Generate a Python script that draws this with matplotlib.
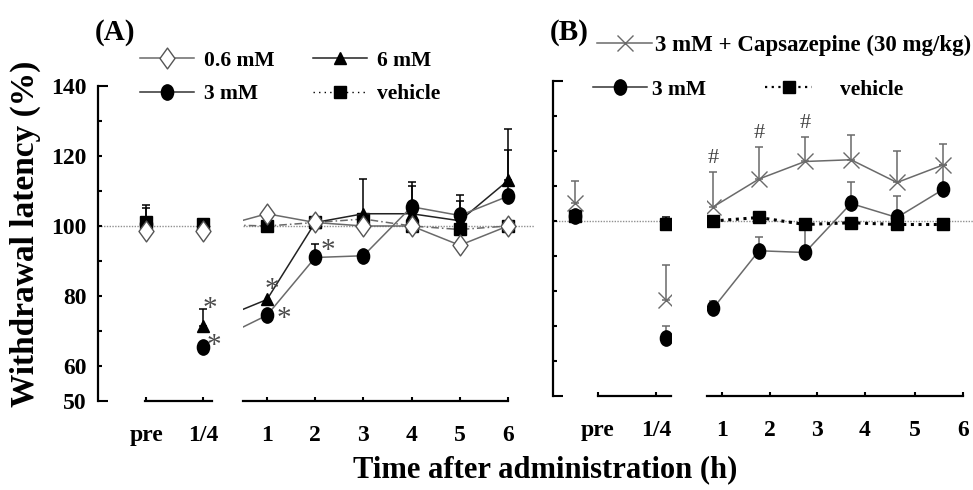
import matplotlib
matplotlib.use('Agg')
import matplotlib.pyplot as plt
import numpy as np
from matplotlib.path import Path
from matplotlib.lines import Line2D
from matplotlib.ticker import FixedLocator, FixedFormatter

plt.rcParams['font.family'] = ['Liberation Serif', 'DejaVu Serif']
plt.rcParams['font.weight'] = 'bold'

# ---------------- data ----------------
time_labels = ['pre', '1/4', '1', '2', '3', '4', '5', '6']

# Panel A
a_06 = [98.5, 98.5, 103.5, 101.0, 100.0, 100.0, 94.5, 100.0]
a_3 = [100.5, 65.5, 74.5, 91.0, 91.5, 105.5, 103.0, 108.5]
a_3_err = [0, 0, 0, 3.8, 0, 7.0, 5.8, 13.3]
a_6 = [101.0, 71.5, 79.0, 101.0, 103.5, 103.5, 101.5, 113.0]
a_6_err = [4.0, 4.8, 0, 0, 9.8, 8.0, 5.5, 14.6]
a_veh = [101.0, 100.5, 100.0, 101.0, 102.0, 100.0, 99.0, 100.0]
a_veh_err = [5.0, 0, 0, 0, 0, 0, 0, 0]
a_sig_6 = [1, 2]
a_sig_3 = [1, 2, 3]

# Panel B
b_cz = [105.0, 77.5, 104.0, 112.0, 117.0, 117.5, 111.0, 116.0]
b_cz_err = [6.5, 10.0, 10.0, 9.0, 7.0, 7.0, 9.0, 6.0]
b_3 = [101.5, 66.5, 75.0, 91.5, 91.0, 105.0, 101.0, 109.0]
b_3_err = [0, 3.5, 2.0, 4.0, 8.0, 6.0, 6.0, 7.0]
b_veh = [101.5, 99.0, 100.0, 101.0, 99.0, 99.5, 99.0, 99.0]
b_veh_err = [0, 2.0, 0, 0, 0, 0, 0, 0]
b_sig_cz = [2, 3, 4]

y_tick_vals = [50, 60, 70, 80, 90, 100, 110, 120, 130, 140]
y_tick_text = ['50', '60', '', '80', '', '100', '', '120', '', '140']
ref_level = 100

# ---------------- layout ----------------
W, H = 973, 490
pos_a = [-1.5, -0.33, 1, 2, 3, 4, 5, 6]
pos_b = [-2.0, 0.0, 1, 2, 3, 4, 5, 6]
tick_b = [-1.5, -0.22, 1.2, 2.24, 3.26, 4.3, 5.39, 6.43]

fig = plt.figure(figsize=(W / 100, H / 100), dpi=100)


def px_axes(x0, x1, ytop, ybot):
    return fig.add_axes([x0 / W, 1 - ybot / H, (x1 - x0) / W, (ybot - ytop) / H])


axA1 = px_axes(98, 212, 86, 401)
axA2 = px_axes(243, 535, 86, 401)
axB1 = px_axes(553, 671, 81, 396)
axB2 = px_axes(707, 973, 81, 396)

axA1.set_xlim(-2.506, -0.141)
axA2.set_xlim(0.502, 6.56)
axB1.set_xlim(-2.478, 0.10)
axB2.set_xlim(0.870, 6.652)

GRAY = '#6a6a6a'
diamond = Path([(0, 1), (0.72, 0), (0, -1), (-0.72, 0), (0, 1)],
               [Path.MOVETO, Path.LINETO, Path.LINETO, Path.LINETO, Path.CLOSEPOLY])
uc = Path.unit_circle()
ellipse = Path(uc.vertices * np.array([0.8, 1.0]), uc.codes)

for ax in (axA1, axA2, axB1, axB2):
    ax.set_ylim(50, 140)
    ax.spines['top'].set_visible(False)
    ax.spines['right'].set_visible(False)
    ax.spines['bottom'].set_linewidth(1.6)
    ax.spines['left'].set_linewidth(1.6)
    ax.patch.set_alpha(0)
    ax.tick_params(axis='x', direction='in', length=3, width=1.5, pad=17, labelsize=17)
    ax.axhline(ref_level, color='#909090', lw=1.0, ls=(0, (1, 1)), zorder=1)

for ax in (axA2, axB2):
    ax.spines['left'].set_visible(False)
    ax.tick_params(axis='y', left=False, labelleft=False)

for ax in (axA1, axB1):
    ax.yaxis.set_major_locator(FixedLocator(y_tick_vals))
    ax.yaxis.set_major_formatter(FixedFormatter(y_tick_text))
    ax.tick_params(axis='y', direction='in', length=3, width=1.5, pad=8, labelsize=17)
axB1.tick_params(axis='y', labelleft=False)
for ax in (axA1, axB1):
    tks = ax.yaxis.get_major_ticks()
    tks[0].tick1line.set_markersize(7)
    tks[-1].tick1line.set_markersize(7)

axA1.spines['bottom'].set_bounds(-1.53, -0.141)
axA2.spines['bottom'].set_bounds(0.502, 6.0)
axB1.spines['bottom'].set_bounds(-1.5, 0.10)
axB2.spines['bottom'].set_bounds(0.870, 6.43)

axA1.set_xticks(pos_a[:2], time_labels[:2])
axA2.set_xticks(pos_a[2:], time_labels[2:])
axB1.set_xticks(tick_b[:2], time_labels[:2])
axB2.set_xticks(tick_b[2:], time_labels[2:])


def up_err(ax, x, y, e, color, sl):
    xs = [x[i] for i in sl if e[i] > 0]
    ys = [y[i] for i in sl if e[i] > 0]
    es = [e[i] for i in sl if e[i] > 0]
    if xs:
        ax.errorbar(xs, ys, yerr=[np.zeros(len(es)), es], fmt='none', ecolor=color,
                    elinewidth=1.1, capsize=3, capthick=1.1, zorder=2)


# ---------------- Panel A ----------------
for ax, sl in ((axA1, range(0, 2)), (axA2, range(1, 8))):
    sl = list(sl)
    xx = [pos_a[i] for i in sl]
    draw_line = ax is axA2
    up_err(ax, pos_a, a_veh, a_veh_err, 'black', sl)
    up_err(ax, pos_a, a_6, a_6_err, 'black', sl)
    up_err(ax, pos_a, a_3, a_3_err, 'black', sl)
    ls_ = '-' if draw_line else 'none'
    ax.plot(xx, [a_veh[i] for i in sl], color=GRAY, lw=1.1,
            ls=(0, (5, 2, 1, 2)) if draw_line else 'none',
            marker='s', ms=9, mfc='black', mec='black', zorder=3)
    ax.plot(xx, [a_6[i] for i in sl], color='#222222', lw=1.1, ls=ls_,
            marker='^', ms=9, mfc='black', mec='black', zorder=4)
    ax.plot(xx, [a_3[i] for i in sl], color=GRAY, lw=1.1, ls=ls_,
            marker=ellipse, ms=11, mfc='black', mec='black', zorder=5)
    ax.plot(xx, [a_06[i] for i in sl], color=GRAY, lw=1.1, ls=ls_,
            marker=diamond, ms=15, mfc='white', mec='#555555', mew=1.0, zorder=6)

ast_kw = dict(textcoords='offset points', ha='center', va='center',
              fontsize=21, color='#4a4a4a', fontweight='normal', zorder=7,
              annotation_clip=False)
off_6 = {1: (5, 0), 2: (3.5, 7)}
off_3 = {1: (8, 0.5), 2: (12, -3), 3: (9, -5)}
for i in a_sig_6:
    axA2.annotate('*', (pos_a[i], a_6[i] + a_6_err[i]), xytext=off_6[i], **ast_kw)
for i in a_sig_3:
    axA2.annotate('*', (pos_a[i], a_3[i] + a_3_err[i]), xytext=off_3[i], **ast_kw)

# ---------------- Panel B ----------------
for ax, sl in ((axB1, range(0, 2)), (axB2, range(2, 8))):
    sl = list(sl)
    xx = [pos_b[i] for i in sl]
    draw_line = ax is axB2
    up_err(ax, pos_b, b_3, b_3_err, GRAY, sl)
    up_err(ax, pos_b, b_veh, b_veh_err, 'black', sl)
    up_err(ax, pos_b, b_cz, b_cz_err, GRAY, sl)
    ax.plot(xx, [b_3[i] for i in sl], color=GRAY, lw=1.1, ls='-' if draw_line else 'none',
            marker=ellipse, ms=11, mfc='black', mec='black', zorder=3)
    ax.plot(xx, [b_veh[i] for i in sl], color='black', lw=2.2,
            ls=(0, (1, 1.5)) if draw_line else 'none',
            marker='s', ms=9, mfc='black', mec='black', zorder=4)
    ax.plot(xx, [b_cz[i] for i in sl], color=GRAY, lw=1.1, ls='-' if draw_line else 'none',
            marker='x', ms=12, mec=GRAY, mew=1.0, zorder=5)

for i in b_sig_cz:
    axB2.annotate('#', (pos_b[i], b_cz[i] + b_cz_err[i]), xytext=(0, 10),
                  textcoords='offset points', ha='center', va='center',
                  fontsize=16, color='#444444', fontweight='normal')

# ---------------- labels & legends ----------------
fig.text(95 / W, 1 - 32 / H, '(A)', fontsize=21, ha='left', va='center')
fig.text(550 / W, 1 - 32 / H, '(B)', fontsize=21, ha='left', va='center')
fig.text(25 / W, 1 - 234 / H, 'Withdrawal latency (%)', rotation=90,
         fontsize=24, ha='center', va='center')
fig.text(545 / W, 1 - 470 / H, 'Time after administration (h)',
         fontsize=22, ha='center', va='center')

h_06 = Line2D([], [], color=GRAY, lw=1.1, marker=diamond, ms=15, mfc='white', mec='#555555')
h_3 = Line2D([], [], color='#333333', lw=1.1, marker=ellipse, ms=11, mfc='black', mec='black')
h_6 = Line2D([], [], color='#222222', lw=1.1, marker='^', ms=9, mfc='black', mec='black')
h_veh = Line2D([], [], color='black', lw=1.0, ls=(0, (1, 3)), marker='s', ms=9,
               mfc='black', mec='black')
h_cz = Line2D([], [], color=GRAY, lw=1.1, marker='x', ms=12, mec=GRAY, mew=1.0)
h_veh_b = Line2D([], [], color='black', lw=1.6, ls=(0, (1, 2)), marker='s', ms=9,
                 mfc='black', mec='black')

leg_kw = dict(frameon=False, fontsize=15.5, borderpad=0, borderaxespad=0,
              handlelength=2.5, labelspacing=0.62, loc='center left')
fig.legend([h_06, h_3], ['0.6 mM', '3 mM'], bbox_to_anchor=(140 / W, 1 - 77.5 / H),
           handletextpad=0.45, **leg_kw)
fig.legend([h_6, h_veh], ['6 mM', 'vehicle'], bbox_to_anchor=(313 / W, 1 - 77.5 / H),
           handletextpad=0.45, **leg_kw)
fig.legend([h_cz], ['3 mM + Capsazepine (30 mg/kg)'], bbox_to_anchor=(597 / W, 1 - 45 / H),
           handletextpad=0.12, **dict(leg_kw, fontsize=16.5, handlelength=2.4))
fig.legend([h_3], ['3 mM'], bbox_to_anchor=(593 / W, 1 - 90 / H),
           handletextpad=0.25, **leg_kw)
fig.legend([h_veh_b], ['vehicle'], bbox_to_anchor=(765 / W, 1 - 90 / H),
           handletextpad=1.3, **dict(leg_kw, handlelength=2.2))

fig.savefig('out.png', dpi=100)
